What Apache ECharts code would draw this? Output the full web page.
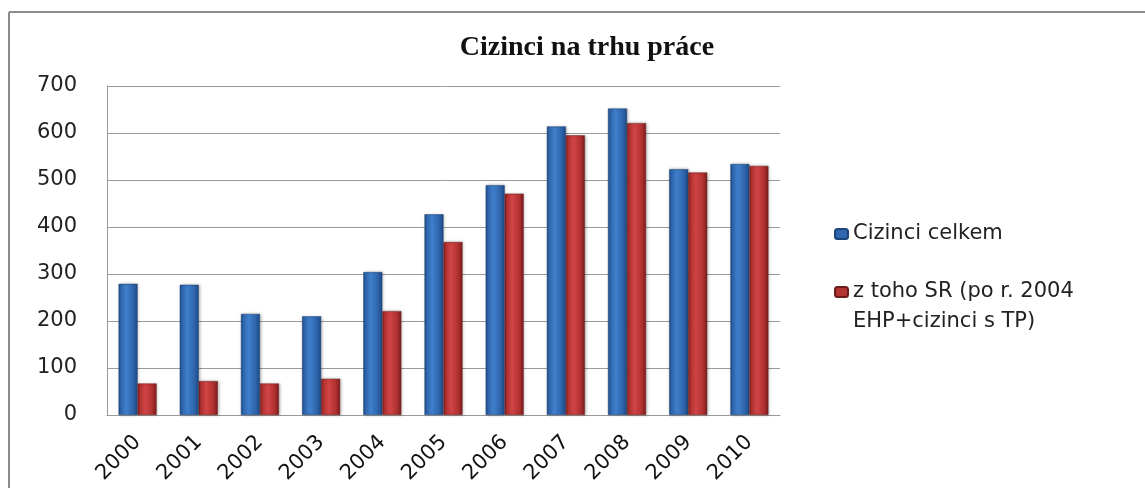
<!DOCTYPE html>
<html>
<head>
<meta charset="utf-8">
<script src="https://cdn.jsdelivr.net/npm/echarts@6/dist/echarts.min.js"></script>
<style>
html,body{margin:0;padding:0;background:#fff;}
#chart{width:1145px;height:488px;}
</style>
</head>
<body>
<div id="chart"></div>
<script>
const title = 'Cizinci na trhu práce';
const categories = ['2000','2001','2002','2003','2004','2005','2006','2007','2008','2009','2010'];
const seriesNames = ['Cizinci celkem', 'z toho SR (po r. 2004\nEHP+cizinci s TP)'];
const totalValues = [279, 277, 215, 210, 304, 427, 489, 614, 652, 523, 534];
const srValues = [67, 72, 67, 77, 221, 368, 471, 595, 621, 516, 530];

function barGrad(dark, mid, light) {
  return new echarts.graphic.LinearGradient(0, 0, 1, 0, [
    {offset: 0, color: dark},
    {offset: 0.12, color: mid},
    {offset: 0.4, color: light},
    {offset: 0.75, color: mid},
    {offset: 1, color: dark}
  ]);
}
const blue = barGrad('#1f4a85', '#2f66ad', '#3f7fcc');
const red = barGrad('#7d1d1d', '#b33232', '#d14444');
const FONT = 'DejaVu Sans';

const chart = echarts.init(document.getElementById('chart'));
chart.setOption({
  backgroundColor: '#ffffff',
  animation: false,
  title: {
    text: title,
    left: 582, textAlign: 'center', top: 29,
    textStyle: {fontFamily: 'Liberation Serif', fontWeight: 'bold', fontSize: 28, color: '#111'}
  },
  graphic: [
    {type: 'line', shape: {x1: 9, y1: 12, x2: 1145, y2: 12}, style: {stroke: '#8c8c8c', lineWidth: 2}},
    {type: 'line', shape: {x1: 9, y1: 12, x2: 9, y2: 488}, style: {stroke: '#8c8c8c', lineWidth: 2}}
  ],
  legend: {
    orient: 'vertical',
    left: 829, top: 214,
    itemWidth: 13, itemHeight: 10,
    itemGap: -2,
    formatter: function (name) { return name.indexOf('\n') >= 0 ? '\n' + name : name; },
    data: [
      {name: seriesNames[0], itemStyle: {color: '#2f66ad'}},
      {name: seriesNames[1], itemStyle: {color: '#b33232'}}
    ],
    textStyle: {fontFamily: FONT, fontSize: 21, color: '#222', lineHeight: 30}
  },
  grid: {left: 107, right: 365, top: 86, bottom: 73, containLabel: false},
  xAxis: {
    type: 'category',
    data: categories,
    axisLine: {lineStyle: {color: '#999', width: 1}},
    axisTick: {show: false},
    axisLabel: {rotate: 45, fontFamily: FONT, fontSize: 21, color: '#111', margin: 24}
  },
  yAxis: {
    type: 'value',
    min: 0, max: 700, interval: 100,
    axisLine: {show: true, lineStyle: {color: '#999'}},
    axisTick: {show: false},
    splitLine: {lineStyle: {color: '#9a9a9a', width: 1}},
    axisLabel: {fontFamily: FONT, fontSize: 21, color: '#222', margin: 30}
  },
  series: [
    {name: seriesNames[0], type: 'bar', data: totalValues, barWidth: 19, barGap: '0%',
     itemStyle: {color: blue, borderColor: '#1d4478', borderWidth: 0.5, shadowColor: 'rgba(0,0,0,0.25)', shadowBlur: 3, shadowOffsetX: 1}},
    {name: seriesNames[1], type: 'bar', data: srValues, barWidth: 19, barGap: '0%',
     itemStyle: {color: red, borderColor: '#6e1a1a', borderWidth: 0.5, shadowColor: 'rgba(0,0,0,0.25)', shadowBlur: 3, shadowOffsetX: 1}}
  ]
});
</script>
</body>
</html>
